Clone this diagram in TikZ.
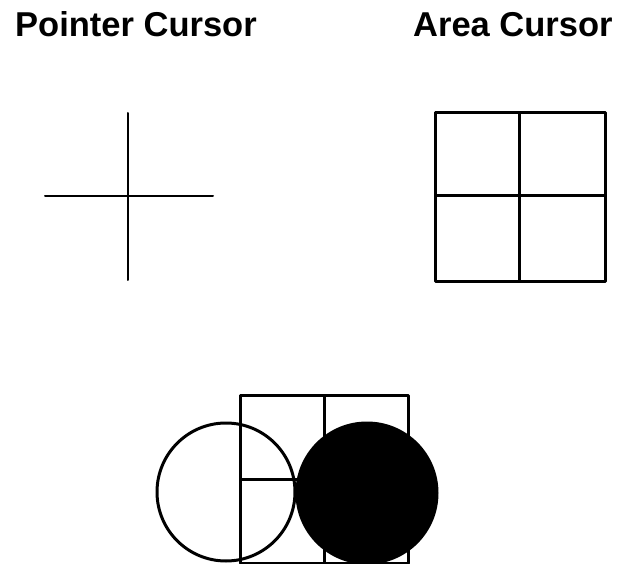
\documentclass[tikz,border=0pt]{standalone}
\usepackage{fontspec}
\setmainfont{Liberation Sans}
\begin{document}
\begin{tikzpicture}[x=1pt,y=-1pt,
  title/.style={font=\fontsize{34.5}{36}\selectfont\bfseries, inner sep=0pt, anchor=base west},
  thin line/.style={line width=2pt, line cap=round},
  box line/.style={line width=3pt, line join=round}]
\useasboundingbox (0,0) rectangle (619,564);
\fill[white] (0,0) rectangle (619,564);
\node[title] (t1) at (15,37) {Pointer Cursor};
\node[title] (t2) at (413,37) {Area Cursor};
% pointer cursor
\draw[thin line] (128,113) -- (128,280);
\draw[thin line] (45,196) -- (213,196);
% area cursor
\draw[box line] (435,113) rectangle (605,282);
\draw[box line] (519,113) -- (519,282);
\draw[box line] (435,196) -- (605,196);
% bottom composite
\draw[box line] (240,395) rectangle (408,563);
\draw[box line] (324,395) -- (324,563);
\draw[box line] (240,479) -- (408,479);
\draw[box line] (226,492) circle (69);
\fill[black] (367,493) circle (71.5);
\end{tikzpicture}
\end{document}
